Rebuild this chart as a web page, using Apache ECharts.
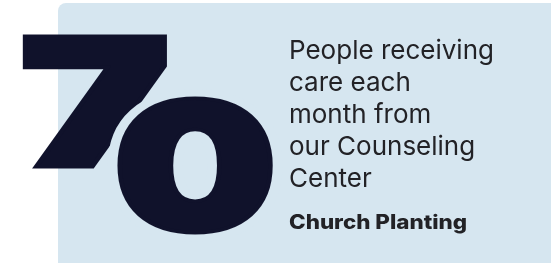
<!DOCTYPE html>
<html>
<head>
<meta charset="utf-8">
<script src="https://cdn.jsdelivr.net/npm/echarts@6/dist/echarts.min.js"></script>
<style>
  html, body { margin: 0; padding: 0; background: #fff; }
  #chart { width: 551px; height: 263px; }
</style>
</head>
<body>
<div id="chart"></div>
<script>
// stat card content
const statDigits = ["7", "0"];
const captionLines = ["People receiving", "care each", "month from", "our Counseling", "Center"];
const programName = ["Church Planting"];

const NAVY = "#10122b";
const CARD = "#d6e6f0";
const INK = "#222226";

const chart = echarts.init(document.getElementById("chart"), null, { renderer: "canvas" });

const bigFont = "900 175px Inter";
const digitPos = [
  { x: 95, y: 112, sx: 1.42 },   // "7"
  { x: 195, y: 176, sx: 1.3 },   // "0"
];

const elements = [
  {
    type: "rect", z: 0,
    shape: { x: 58, y: 3, width: 540, height: 300, r: 8 },
    style: { fill: CARD },
  },
];

statDigits.forEach((d, i) => {
  const p = digitPos[i];
  // knockout halo so the 0 cuts into the 7
  if (i === 1) {
    elements.push({
      type: "text", z: 1 + i * 2, x: p.x, y: p.y, scaleX: p.sx,
      style: {
        text: d, x: 0, y: 0, font: bigFont, fill: CARD,
        stroke: CARD, lineWidth: 22, align: "center", verticalAlign: "middle",
      },
    });
  }
  elements.push({
    type: "text", z: 2 + i * 2, x: p.x, y: p.y, scaleX: p.sx,
    style: {
      text: d, x: 0, y: 0, font: bigFont, fill: NAVY,
      stroke: NAVY, lineWidth: 7, align: "center", verticalAlign: "middle",
    },
  });
});

captionLines.forEach((line, i) => {
  elements.push({
    type: "text", z: 10, x: 289, y: 51 + i * 32,
    style: {
      text: line, x: 0, y: 0, font: "400 26px Inter", fill: INK,
      align: "left", verticalAlign: "middle",
    },
  });
});

elements.push({
  type: "text", z: 10, x: 289, y: 223, scaleX: 1.12,
  style: {
    text: programName[0], x: 0, y: 0, font: "800 20px Inter", fill: INK,
    align: "left", verticalAlign: "middle",
  },
});

chart.setOption({
  animation: false,
  graphic: { elements },
});
</script>
</body>
</html>
